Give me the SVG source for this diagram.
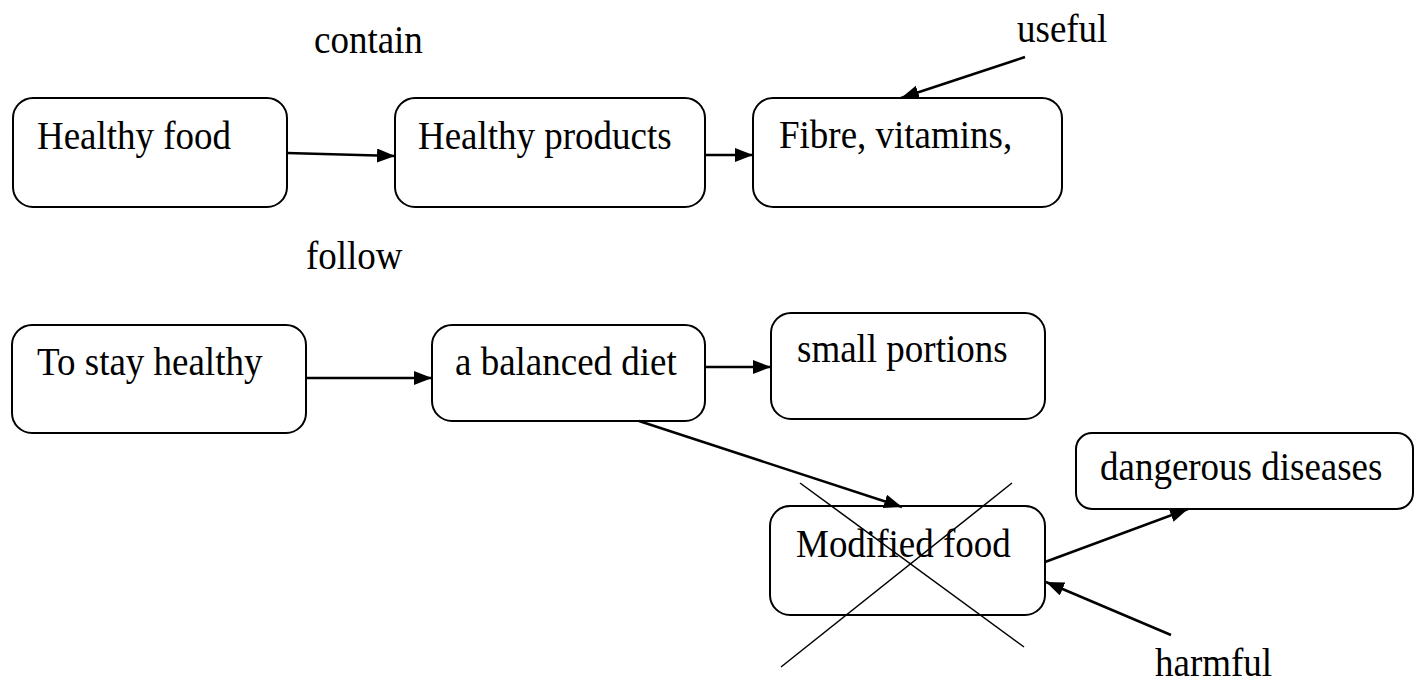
<svg xmlns="http://www.w3.org/2000/svg" width="1416" height="684" viewBox="0 0 1416 684">
<defs>
<marker id="ah" markerWidth="20" markerHeight="16" refX="18" refY="7" orient="auto" markerUnits="userSpaceOnUse">
<path d="M0,0 L18,7 L0,14 z" fill="#000"/>
</marker>
<style>
.box{fill:#fff;stroke:#000;stroke-width:2}
.t{font-family:"Liberation Serif","Times New Roman",serif;font-size:37px;fill:#000}
.c{stroke:#000;stroke-width:2.5;fill:none;marker-end:url(#ah)}
.x{stroke:#000;stroke-width:1.5;fill:none}
</style>
</defs>
<rect width="1416" height="684" fill="#fff"/>
<g id="n1"><rect class="box" x="13" y="98" width="274" height="109" rx="20"/><text class="t" transform="translate(37,149) scale(1,1.07)">Healthy food</text></g>
<g id="n2"><rect class="box" x="395" y="98" width="310" height="109" rx="20"/><text class="t" transform="translate(418,149) scale(1,1.07)">Healthy products</text></g>
<g id="n3"><rect class="box" x="753" y="98" width="309" height="109" rx="20"/><text class="t" transform="translate(779,148) scale(1,1.07)">Fibre, vitamins,</text></g>
<g id="n4"><rect class="box" x="12" y="325" width="294" height="108" rx="20"/><text class="t" transform="translate(37,375) scale(1,1.07)">To stay healthy</text></g>
<g id="n5"><rect class="box" x="432" y="325" width="273" height="96" rx="20"/><text class="t" transform="translate(455,375) scale(1,1.07)">a balanced diet</text></g>
<g id="n6"><rect class="box" x="771" y="313" width="274" height="106" rx="20"/><text class="t" transform="translate(797,362) scale(1,1.07)">small portions</text></g>
<g id="n7"><rect class="box" x="770" y="506" width="275" height="109" rx="20"/><text class="t" transform="translate(796,557) scale(1,1.07)">Modified food</text></g>
<g id="n8"><rect class="box" x="1076" y="433" width="337" height="76" rx="16"/><text class="t" transform="translate(1100,480) scale(1,1.07)">dangerous diseases</text></g>
<g id="labels">
<text class="t" transform="translate(314,53) scale(1,1.07)">contain</text>
<text class="t" transform="translate(1017,42) scale(1,1.07)">useful</text>
<text class="t" transform="translate(306,269) scale(1,1.07)">follow</text>
<text class="t" transform="translate(1155,676) scale(1,1.07)">harmful</text>
</g>
<g id="connectors">
<line class="c" x1="287" y1="153" x2="395" y2="156"/>
<line class="c" x1="705" y1="155" x2="753" y2="155"/>
<line class="c" x1="1025" y1="57" x2="901" y2="98"/>
<line class="c" x1="306" y1="378" x2="432" y2="378"/>
<line class="c" x1="705" y1="367" x2="771" y2="367"/>
<line class="c" x1="639" y1="421" x2="902" y2="507"/>
<line class="c" x1="1045" y1="562" x2="1188" y2="509"/>
<line class="c" x1="1171" y1="635" x2="1046" y2="582"/>
<line class="x" x1="800" y1="483" x2="1024" y2="647"/>
<line class="x" x1="1012" y1="483" x2="781" y2="667"/>
</g>
</svg>
